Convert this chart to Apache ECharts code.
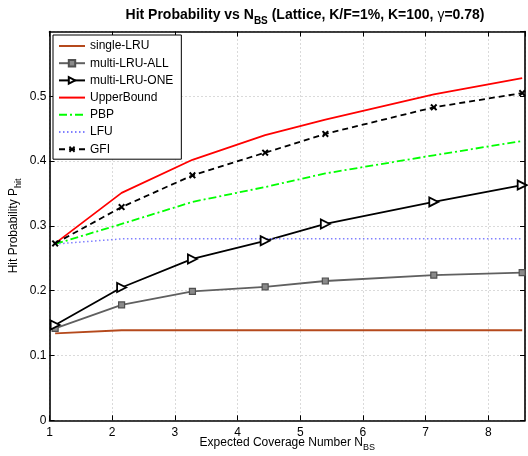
<!DOCTYPE html>
<html>
<head>
<meta charset="utf-8">
<script src="https://cdn.jsdelivr.net/npm/echarts@6/dist/echarts.min.js"></script>
<style>
  html, body { margin: 0; padding: 0; background: #fff; }
  #chart { width: 528px; height: 456px; }
</style>
</head>
<body>
<div id="chart"></div>
<script>
// Expected coverage number N_BS (x positions shared by all curves)
const nbs = [1.09, 2.15, 3.28, 4.44, 5.40, 7.13, 8.54];

// Hit probability for each caching scheme
const singleLRU = [0.134, 0.139, 0.139, 0.139, 0.139, 0.139, 0.139];
const multiLRUAll = [0.142, 0.178, 0.199, 0.206, 0.215, 0.224, 0.228];
const multiLRUOne = [0.147, 0.205, 0.249, 0.277, 0.303, 0.337, 0.363];
const upperBound = [0.273, 0.351, 0.402, 0.440, 0.464, 0.503, 0.528];
const pbp = [0.272, 0.303, 0.337, 0.360, 0.381, 0.409, 0.431];
const lfu = [0.272, 0.280, 0.280, 0.280, 0.280, 0.280, 0.280];
const gfi = [0.273, 0.329, 0.378, 0.413, 0.442, 0.483, 0.505];

const seriesNames = ['single-LRU', 'multi-LRU-ALL', 'multi-LRU-ONE', 'UpperBound', 'PBP', 'LFU', 'GFI'];

const FONT = "'Liberation Sans', Arial, Helvetica, sans-serif";
const pairs = ys => nbs.map((x, i) => [x, ys[i]]);

// small "x" marker for the GFI curve
const starPath = 'path://M2,0L5,3L8,0L10,2L7,5L10,8L8,10L5,7L2,10L0,8L3,5L0,2Z';

const chart = echarts.init(document.getElementById('chart'), null, { renderer: 'canvas' });

const frameLine = { show: true, onZero: false, lineStyle: { color: '#000', width: 1.6 } };
const innerTick = { show: true, inside: true, length: 5, lineStyle: { color: '#000', width: 1 } };
const gridLine = { show: true, lineStyle: { color: '#b4b4b4', type: [1, 3], width: 1 } };

const subRich = {
  b: { fontFamily: FONT, fontSize: 14, fontWeight: 'bold', color: '#000', lineHeight: 16, verticalAlign: 'top' },
  s: { fontFamily: FONT, fontSize: 10, fontWeight: 'bold', color: '#000', lineHeight: 11, verticalAlign: 'top', padding: [8, 0, 0, 0] },
  g: { fontFamily: FONT, fontSize: 14, fontWeight: 'normal', color: '#000', lineHeight: 16, verticalAlign: 'top' },
  n: { fontFamily: FONT, fontSize: 12, color: '#000', lineHeight: 14, verticalAlign: 'top' },
  ns: { fontFamily: FONT, fontSize: 9, color: '#000', lineHeight: 10, verticalAlign: 'top', padding: [7, 0, 0, 0] }
};

// lines drawn without markers keep an invisible legend marker
const noMarker = { color: 'rgba(0,0,0,0)' };

const option = {
  backgroundColor: '#fff',
  animation: false,
  textStyle: { fontFamily: FONT },
  title: {
    text: '{b|Hit Probability vs N}{s|BS}{b| (Lattice, K/F=1%, K=100, }{g|γ}{b|=0.78)}',
    left: 300,
    textAlign: 'center',
    top: 3,
    textStyle: { rich: subRich }
  },
  grid: { left: 49.5, right: 3, top: 31.5, bottom: 35.7, containLabel: false, outerBoundsMode: 'none' },
  legend: {
    data: seriesNames,
    orient: 'vertical',
    left: 53,
    top: 35,
    padding: [5, 8, 4, 5],
    itemWidth: 26,
    itemHeight: 8,
    itemGap: 5.2,
    selectedMode: false,
    backgroundColor: '#fff',
    borderColor: '#000',
    borderWidth: 1,
    textStyle: { fontFamily: FONT, fontSize: 12, color: '#000', lineHeight: 12 }
  },
  xAxis: [
    {
      type: 'value',
      min: 1,
      max: 8.585,
      interval: 1,
      position: 'bottom',
      name: '{n|Expected Coverage Number N}{ns|BS}',
      nameLocation: 'middle',
      nameGap: 16,
      nameMoveOverlap: false,
      nameTextStyle: { rich: subRich },
      axisLine: frameLine,
      axisTick: innerTick,
      splitLine: gridLine,
      axisLabel: {
        showMaxLabel: false,
        margin: 6,
        fontFamily: FONT,
        fontSize: 12,
        color: '#000',
        formatter: v => (Number.isInteger(v) ? String(v) : '')
      }
    },
    {
      type: 'value',
      min: 1,
      max: 8.585,
      interval: 1,
      position: 'top',
      axisLine: frameLine,
      axisTick: innerTick,
      splitLine: { show: false },
      axisLabel: { show: false }
    }
  ],
  yAxis: [
    {
      type: 'value',
      min: 0,
      max: 0.6,
      interval: 0.1,
      position: 'left',
      name: '{n|Hit Probability P}{ns|hit}',
      nameLocation: 'middle',
      nameGap: 28,
      nameMoveOverlap: false,
      nameRotate: 90,
      nameTextStyle: { rich: subRich },
      axisLine: frameLine,
      axisTick: innerTick,
      splitLine: gridLine,
      axisLabel: {
        showMaxLabel: false,
        margin: 3,
        fontFamily: FONT,
        fontSize: 12,
        color: '#000',
        formatter: v => String(Math.round(v * 10) / 10)
      }
    },
    {
      type: 'value',
      min: 0,
      max: 0.6,
      interval: 0.1,
      position: 'right',
      axisLine: frameLine,
      axisTick: innerTick,
      splitLine: { show: false },
      axisLabel: { show: false }
    }
  ],
  series: [
    {
      name: 'single-LRU',
      type: 'line',
      data: pairs(singleLRU),
      symbol: 'none',
      itemStyle: noMarker,
      lineStyle: { color: '#b5491c', width: 1.8 }
    },
    {
      name: 'multi-LRU-ALL',
      type: 'line',
      data: pairs(multiLRUAll),
      symbol: 'rect',
      symbolSize: 6,
      itemStyle: { color: '#8a8a8a', borderColor: '#505050', borderWidth: 1.2 },
      lineStyle: { color: '#606060', width: 1.8 }
    },
    {
      name: 'multi-LRU-ONE',
      type: 'line',
      data: pairs(multiLRUOne),
      symbol: 'triangle',
      symbolRotate: -90,
      symbolSize: 9,
      itemStyle: { color: '#fff', borderColor: '#000', borderWidth: 1.8 },
      lineStyle: { color: '#000', width: 1.8 }
    },
    {
      name: 'UpperBound',
      type: 'line',
      data: pairs(upperBound),
      symbol: 'none',
      itemStyle: noMarker,
      lineStyle: { color: '#ff0000', width: 1.8 }
    },
    {
      name: 'PBP',
      type: 'line',
      data: pairs(pbp),
      symbol: 'none',
      itemStyle: noMarker,
      lineStyle: { color: '#00ff00', width: 1.8, type: [8, 3, 2, 3] }
    },
    {
      name: 'LFU',
      type: 'line',
      data: pairs(lfu),
      symbol: 'none',
      itemStyle: noMarker,
      lineStyle: { color: '#8080ff', width: 1.5, type: [1.5, 2.5] }
    },
    {
      name: 'GFI',
      type: 'line',
      data: pairs(gfi),
      symbol: starPath,
      symbolSize: 7,
      itemStyle: { color: '#000' },
      lineStyle: { color: '#000', width: 1.8, type: [6, 4] }
    }
  ]
};

chart.setOption(option);
</script>
</body>
</html>
